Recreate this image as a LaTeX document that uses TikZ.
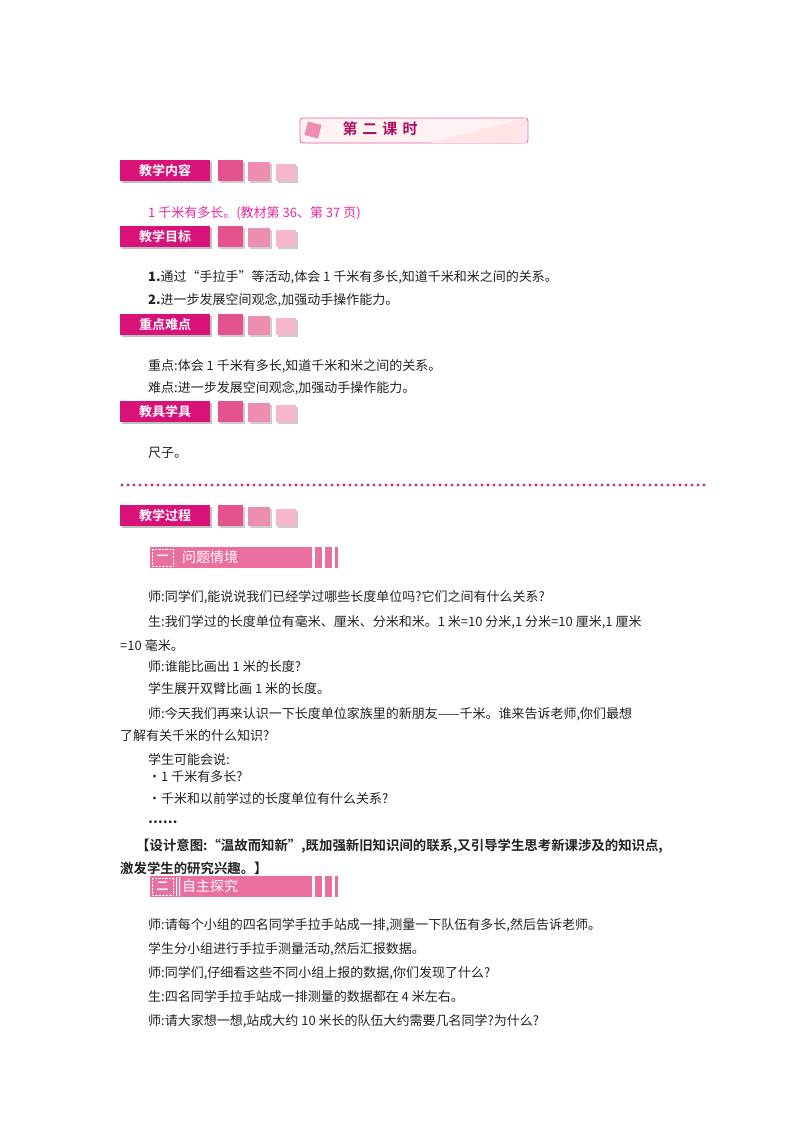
\documentclass[tikz,border=0pt]{standalone}
\usepackage{fontspec}
\setmainfont{Noto Sans CJK SC}
\newfontfamily\cjkb{Noto Sans CJK SC Bold}
\definecolor{barc}{HTML}{EA6E9E}
\definecolor{hdrc}{HTML}{D9127A}
\definecolor{sqa}{HTML}{E4538E}
\definecolor{sqb}{HTML}{EE8DB2}
\definecolor{sqc}{HTML}{F6B6CC}
\definecolor{ink}{HTML}{222222}
\begin{document}
\begin{tikzpicture}[x=1pt,y=-1pt,
  txt/.style={anchor=west,inner sep=0pt,text=ink,font=\fontsize{13}{15}\selectfont},
  hdr/.style={fill=hdrc,text=white,inner sep=0pt,minimum width=90,minimum height=21,font=\cjkb\fontsize{13}{15}\selectfont}]
\useasboundingbox (0,0) rectangle (800,1132);
% title
\node[draw=hdrc!70,line width=0.8,rounded corners=3,fill=pink!20,minimum width=228,minimum height=25,inner sep=0pt] (title) at (414,130.5) {};
\fill[sqb,rotate around={-15:(313,130)}] (306,123) rectangle (320,137);
\fill[pink!40] (430,143) -- (526,118) -- (526,143) -- cycle;
\node[font=\cjkb\fontsize{15}{17}\selectfont,text=hdrc!80!black] (tt) at (380,129) {第\,\,二\,\,课\,\,时};
\newcommand\hd[3]{%
  \fill[gray!50] (122,#1+2) rectangle (212,#1+23);
  \node[hdr,anchor=north west] (#3) at (120,#1) {#2};
  \fill[gray!40] (220,#1+2) rectangle (245,#1+23);
  \fill[sqa] (218,#1) rectangle (243,#1+21);
  \fill[gray!40] (250,#1+4) rectangle (272,#1+23);
  \fill[sqb] (248,#1+2) rectangle (270,#1+21);
  \fill[gray!40] (278,#1+6) rectangle (298,#1+23);
  \fill[sqc] (276,#1+4) rectangle (296,#1+21);}
\hd{160}{教学内容}{h1}
\hd{226}{教学目标}{h2}
\hd{314}{重点难点}{h3}
\hd{401}{教具学具}{h4}
\hd{505}{教学过程}{h5}
\node[txt,text=magenta!85!white] (c1) at (148,213) {1 千米有多长。(教材第 36、第 37 页)};
\node[txt] (g1) at (148,277) {\textbf{1.}通过“手拉手”等活动,体会 1 千米有多长,知道千米和米之间的关系。};
\node[txt] (g2) at (148,300) {\textbf{2.}进一步发展空间观念,加强动手操作能力。};
\node[txt] (k1) at (148,366) {重点:体会 1 千米有多长,知道千米和米之间的关系。};
\node[txt] (k2) at (148,388) {难点:进一步发展空间观念,加强动手操作能力。};
\node[txt] (t1) at (148,453) {尺子。};
\foreach \i in {0,...,97} \fill[magenta!60!violet] (122+\i*6,485) circle (1.7);
% section bars
\newcommand\sbar[3]{%
  \fill[barc] (150,#1) rectangle (312,#1+21);
  \fill[barc] (315,#1) rectangle (322,#1+21);
  \fill[barc] (325,#1) rectangle (332,#1+21);
  \fill[barc] (335,#1) rectangle (338,#1+21);
  \draw[white,densely dotted,fill=barc] (152,#1+2) rectangle (173,#1+19);
  \node[white,font=\cjkb\fontsize{12}{14}\selectfont] at (162.5,#1+10.5) {#2};
  \node[txt,white,font=\fontsize{14}{16}\selectfont] (#3) at (182,#1+10.5) {#3};}
\sbar{547}{一}{问题情境}
\sbar{876}{二}{自主探究}
\fill[white] (176,877) rectangle (177,896) (179,877) rectangle (180,896);
\node[txt] (p1) at (148,597) {师:同学们,能说说我们已经学过哪些长度单位吗?它们之间有什么关系?};
\node[txt] (p2) at (148,622) {生:我们学过的长度单位有毫米、厘米、分米和米。1 米=10 分米,1 分米=10 厘米,1 厘米};
\node[txt] (p3) at (120,645) {=10 毫米。};
\node[txt] (p4) at (148,667) {师:谁能比画出 1 米的长度?};
\node[txt] (p5) at (148,689) {学生展开双臂比画 1 米的长度。};
\node[txt] (p6) at (148,714) {师:今天我们再来认识一下长度单位家族里的新朋友——千米。谁来告诉老师,你们最想};
\node[txt] (p7) at (120,736) {了解有关千米的什么知识?};
\node[txt] (p8) at (148,759) {学生可能会说:};
\node[txt] (p9) at (148,777) {·1 千米有多长?};
\node[txt] (p10) at (148,799) {·千米和以前学过的长度单位有什么关系?};
\node[txt] (p11) at (148,822) {\textbf{……}};
\node[txt,font=\cjkb\fontsize{13.4}{15}\selectfont] (p12) at (136,846) {【设计意图:“温故而知新”,既加强新旧知识间的联系,又引导学生思考新课涉及的知识点,};
\node[txt,font=\cjkb\fontsize{13.4}{15}\selectfont] (p13) at (120,868) {激发学生的研究兴趣。】};
\node[txt] (q1) at (148,925) {师:请每个小组的四名同学手拉手站成一排,测量一下队伍有多长,然后告诉老师。};
\node[txt] (q2) at (148,949) {学生分小组进行手拉手测量活动,然后汇报数据。};
\node[txt] (q3) at (148,973) {师:同学们,仔细看这些不同小组上报的数据,你们发现了什么?};
\node[txt] (q4) at (148,997) {生:四名同学手拉手站成一排测量的数据都在 4 米左右。};
\node[txt] (q5) at (148,1021) {师:请大家想一想,站成大约 10 米长的队伍大约需要几名同学?为什么?};
\end{tikzpicture}
\end{document}
